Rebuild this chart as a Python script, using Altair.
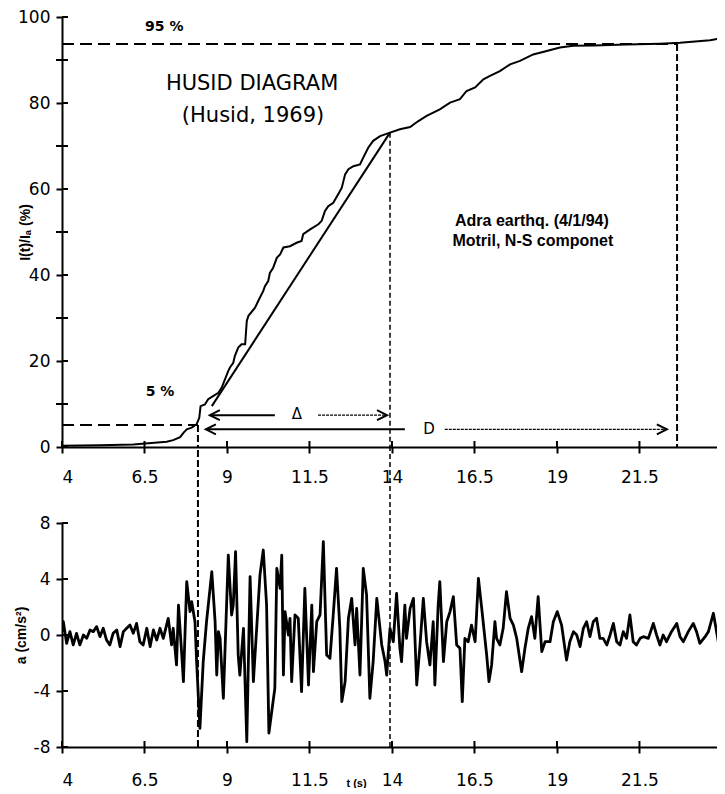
import altair as alt
import pandas as pd

# ---------------- data ----------------
# Husid diagram: cumulative Arias intensity (%) vs time (s)
husid_t = [4.0, 5.15, 6.16, 7.17, 7.37, 7.58, 7.68, 7.78, 7.93, 8.08,
           8.16, 8.20, 8.33, 8.43, 8.59, 8.74, 8.84, 9.04, 9.09, 9.19,
           9.24, 9.34, 9.44, 9.55, 9.60, 9.65, 9.85, 9.95, 10.10, 10.15,
           10.25, 10.30, 10.40, 10.51, 10.61, 10.71, 10.91, 11.11, 11.26, 11.31,
           11.52, 11.77, 11.87, 11.97, 12.07, 12.22, 12.37, 12.48, 12.58, 12.68,
           12.83, 13.03, 13.13, 13.28, 13.43, 13.64, 13.94, 14.24, 14.55, 14.80,
           15.05, 15.45, 15.76, 16.06, 16.26, 16.52, 16.77, 16.97, 17.27, 17.58,
           17.88, 18.28, 18.69, 19.09, 19.49, 20.10, 21.11, 22.12, 22.73, 23.64,
           24.09]
husid_i = [0.3, 0.4, 0.6, 1.2, 1.6, 2.3, 3.3, 4.1, 4.5, 5.3,
           6.8, 9.5, 9.9, 11.1, 11.9, 12.6, 13.8, 17.7, 18.5, 19.6,
           21.2, 23.1, 23.9, 23.9, 29.3, 30.5, 32.4, 34.0, 36.3, 37.4,
           38.6, 40.5, 41.7, 44.0, 44.8, 46.4, 46.7, 47.5, 47.9, 49.5,
           50.6, 51.8, 52.6, 54.9, 56.0, 56.8, 58.8, 60.3, 63.4, 64.6,
           65.3, 65.7, 67.3, 69.6, 71.2, 72.3, 73.1, 73.9, 74.4, 75.8,
           77.0, 78.5, 80.1, 80.9, 82.8, 83.6, 85.5, 86.3, 87.4, 89.0,
           89.8, 91.3, 92.1, 92.9, 93.3, 93.4, 93.6, 93.8, 94.0, 94.6,
           95.2]

# straight (linear) reference line
linear_t = [8.54, 13.94]
linear_i = [9.5, 73.1]

# accelerogram a(t) in cm/s^2
accel_t = [4.00, 4.04, 4.14, 4.24, 4.34, 4.44, 4.54, 4.65, 4.75, 4.85,
           4.95, 5.05, 5.15, 5.25, 5.35, 5.45, 5.55, 5.66, 5.76, 5.86,
           5.96, 6.06, 6.16, 6.26, 6.36, 6.46, 6.57, 6.67, 6.77, 6.87,
           6.97, 7.07,
           7.12, 7.22, 7.32, 7.37, 7.47, 7.53, 7.63, 7.68, 7.78, 7.88,
           7.93, 8.03, 8.08, 8.18, 8.28, 8.38, 8.54, 8.64, 8.69, 8.74,
           8.79, 8.89, 9.04, 9.14, 9.19, 9.26, 9.34, 9.39, 9.50, 9.60,
           9.70, 9.80, 9.90, 10.00, 10.10, 10.20, 10.27,
           10.45, 10.51, 10.61, 10.66, 10.71, 10.76, 10.86, 10.91, 10.96, 11.06,
           11.16, 11.26, 11.36, 11.47, 11.57, 11.62, 11.72, 11.82, 11.92, 12.02,
           12.12, 12.22, 12.32, 12.42, 12.48, 12.58, 12.68, 12.78, 12.88, 12.93,
           13.03, 13.13, 13.23, 13.33, 13.43, 13.54,
           13.69, 13.79, 13.84, 13.94, 14.04, 14.14, 14.24, 14.29, 14.39, 14.44,
           14.55, 14.65, 14.75, 14.85, 14.95, 15.05, 15.15, 15.25, 15.30, 15.40,
           15.45, 15.56, 15.66, 15.76, 15.86, 15.96, 16.06, 16.13, 16.21, 16.31,
           16.41, 16.52, 16.62, 16.72,
           16.87, 16.94, 17.02, 17.12, 17.17, 17.27, 17.37, 17.47, 17.58, 17.68,
           17.78, 17.93, 18.03, 18.13, 18.23, 18.33, 18.43, 18.54, 18.64, 18.79,
           18.89, 19.01, 19.14, 19.29, 19.39, 19.50, 19.60, 19.70, 19.80, 19.90,
           20.00, 20.10, 20.20, 20.30,
           20.40, 20.51, 20.61, 20.71, 20.81, 20.91, 21.01, 21.11, 21.21, 21.31,
           21.41, 21.52, 21.62, 21.77, 21.92, 22.02, 22.12, 22.22, 22.32, 22.47,
           22.63, 22.73, 22.83, 22.98, 23.13, 23.23, 23.33, 23.49, 23.59, 23.74,
           23.89, 23.99, 24.09]
accel_a = [0.24, 0.95, -0.6, 0.24, -0.71, 0.12, -0.71, 0.0, -0.24, 0.36,
           0.24, 0.6, -0.12, 0.48, -0.36, -0.71, 0.12, 0.36, -0.83, 0.24,
           0.48, 0.71, 0.12, 0.83, -0.48, -0.71, 0.48, -0.83, 0.36, -0.36,
           0.48, -0.24,
           0.24, 1.19, -0.71, 0.48, -2.14, 2.14, -1.43, -3.33, 3.81, 1.67,
           2.38, 0.95, -1.90, -6.67, -1.90, 0.95, 4.52, 0.95, -2.86, 0.24,
           -0.24, -4.52, 5.71, 1.43, 2.14, 5.95, -1.43, -2.86, 0.48, -7.62,
           4.17, -3.33, 0.48, 4.29, 6.07, 2.14, -7.0,
           -3.81, 4.76, 3.33, 5.71, -2.86, 1.67, 0.0, 1.19, -3.33, 1.43,
           1.19, -4.05, 3.33, -3.57, 2.14, -2.62, 0.95, 1.43, 6.67, -1.43,
           -1.67, 1.43, 4.76, 0.48, -4.76, -3.33, 1.19, 2.62, -0.71, 1.90,
           -2.86, 4.76, 2.86, -4.52, -1.90, 2.62,
           -0.71, -1.90, -2.86, 0.48, -0.48, 2.98, -0.95, -1.90, 2.14, -0.24,
           1.90, 2.62, -3.57, -0.71, 2.62, -0.48, -2.14, 0.95, -3.57, 2.14,
           3.81, -1.90, 0.95, 1.67, 2.74, -0.71, -0.95, -4.76, -0.24, -0.48,
           0.71, -0.48, 4.05, 1.90,
           -1.43, -3.33, -2.14, 0.95, -0.24, -0.71, 0.48, 3.10, 1.19, 0.71,
           -0.24, -2.62, -0.95, 0.48, 1.31, -0.24, 2.74, -1.19, -0.48, -0.48,
           0.95, 1.67, 0.71, -1.79, -0.48, 0.24, 0.0, -0.83, 0.48, 0.95,
           -0.12, 0.95, 1.19, -0.24,
           -0.24, -0.71, 0.0, 0.83, -0.48, -0.71, 0.24, -0.24, 1.43, -0.48,
           -0.71, -0.24, -0.12, -0.24, 0.83, 0.0, -0.71, 0.0, -0.48, 0.24,
           0.83, -0.12, -0.48, 0.24, 0.83, 0.24, -0.60, -0.12, 0.24, 1.55,
           -0.48, -0.60, -0.48]

# threshold lines (5 % and 95 %)
hline_t0 = [4.0, 4.0]
hline_t1 = [8.12, 22.64]
hline_i = [5.1, 93.7]

# vertical markers: t5, end of linear part, t95
vline_t = [8.12, 22.64]
vline_i = [5.1, 93.7]
vmid_t = [13.94]
vmid_i = [73.1]
cross_t = [8.12, 13.94]   # markers that continue into the accelerogram

# arrows Delta and D
arrow_solid_t0 = [8.48, 8.36]
arrow_solid_t1 = [10.45, 14.39]
arrow_thin_t0 = [11.76, 15.60]
arrow_thin_t1 = [13.85, 22.33]
arrow_i = [7.4, 4.1]
head_left_t = [8.48, 8.36]
head_right_t = [13.85, 22.33]

# annotation texts
title_txt = ["HUSID DIAGRAM", "(Husid, 1969)"]
title_t = [9.76, 9.79]
title_i = [84.4, 77.0]
pct_txt = ["95 %", "5 %"]
pct_t = [7.1, 6.97]
pct_i = [97.7, 12.8]
eq_txt = ["Adra earthq. (4/1/94)", "Motril, N-S componet"]
eq_t = [18.24, 18.27]
eq_i = [52.6, 47.9]
sym_txt = ["\u0394", "D"]
sym_t = [11.12, 15.12]
sym_i = [7.6, 4.1]

x_ticks = [4, 6.5, 9, 11.5, 14, 16.5, 19, 21.5]
top_yticks = [0, 20, 40, 60, 80, 100]
top_minor = [10, 30, 50, 70, 90]
bot_yticks = [-8, -4, 0, 4, 8]

# ---------------- chart ----------------
W = 655
H1 = 430
H2 = 224
XDOM = [4, 23.85]

xs = alt.Scale(domain=XDOM, nice=False, zero=False)
ys1 = alt.Scale(domain=[0, 100], nice=False)
ys2 = alt.Scale(domain=[-8, 8], nice=False)

LEFT_HEAD = "M2,-1L0,0L2,1"
RIGHT_HEAD = "M-2,-1L0,0L-2,1"
HYPHEN_LABEL = "datum.value < 0 ? '-' + toString(abs(datum.value)) : toString(datum.value)"

husid_df = pd.DataFrame({"t": husid_t, "I": husid_i})
lin_df = pd.DataFrame({"t": linear_t, "I": linear_i})
hl_df = pd.DataFrame({"t": hline_t0, "t2": hline_t1, "I": hline_i})
vl_df = pd.DataFrame({"t": vline_t, "I": vline_i, "I2": [0.0] * len(vline_t)})
vm_df = pd.DataFrame({"t": vmid_t, "I": vmid_i, "I2": [0.0] * len(vmid_t)})
as_df = pd.DataFrame({"t": arrow_solid_t0, "t2": arrow_solid_t1, "I": arrow_i})
at_df = pd.DataFrame({"t": arrow_thin_t0, "t2": arrow_thin_t1, "I": arrow_i})
hl_left = pd.DataFrame({"t": head_left_t, "I": arrow_i})
hl_right = pd.DataFrame({"t": head_right_t, "I": arrow_i})
title_df = pd.DataFrame({"t": title_t, "I": title_i, "s": title_txt})
pct_df = pd.DataFrame({"t": pct_t, "I": pct_i, "s": pct_txt})
eq_df = pd.DataFrame({"t": eq_t, "I": eq_i, "s": eq_txt})
sym_df = pd.DataFrame({"t": sym_t, "I": sym_i, "s": sym_txt})
minor_df = pd.DataFrame({"I": top_minor})
major_df = pd.DataFrame({"I": top_yticks})
xt_df = pd.DataFrame({"t": x_ticks})

X = lambda: alt.X("t:Q", scale=xs)
Y1 = lambda: alt.Y("I:Q", scale=ys1)
Y2 = lambda: alt.Y("a:Q", scale=ys2)

curve = alt.Chart(husid_df).mark_line(color="black", strokeWidth=2, clip=True).encode(
    x=alt.X("t:Q", scale=xs, axis=alt.Axis(values=x_ticks, format=".3~g", title=None,
                                           labelPadding=16)),
    y=alt.Y("I:Q", scale=ys1, axis=alt.Axis(values=top_yticks, format="d",
                                            title="I(t)/I\u2090 (%)",
                                            titleX=-37, titleBaseline="middle",
                                            titleFontSize=14, labelPadding=6)),
)
lin = alt.Chart(lin_df).mark_line(color="black", strokeWidth=2).encode(x=X(), y=Y1())
hl = alt.Chart(hl_df).mark_rule(color="black", strokeWidth=2, strokeDash=[12, 6]).encode(
    x=X(), x2="t2:Q", y=Y1())
vl = alt.Chart(vl_df).mark_rule(color="black", strokeWidth=2, strokeDash=[7, 3]).encode(
    x=X(), y=Y1(), y2="I2:Q")
vm = alt.Chart(vm_df).mark_rule(color="black", strokeWidth=1.5, strokeDash=[5, 3]).encode(
    x=X(), y=Y1(), y2="I2:Q")
asol = alt.Chart(as_df).mark_rule(color="black", strokeWidth=2).encode(x=X(), x2="t2:Q", y=Y1())
athin = alt.Chart(at_df).mark_rule(color="black", strokeWidth=1.3, strokeDash=[3, 1]).encode(
    x=X(), x2="t2:Q", y=Y1())
hleft = alt.Chart(hl_left).mark_point(shape=LEFT_HEAD, size=100, filled=False, color="black",
                                      strokeWidth=2, opacity=1).encode(x=X(), y=Y1())
hright = alt.Chart(hl_right).mark_point(shape=RIGHT_HEAD, size=100, filled=False, color="black",
                                        strokeWidth=2, opacity=1).encode(x=X(), y=Y1())
ttl = alt.Chart(title_df).mark_text(font="DejaVu Sans", fontSize=21, color="black").encode(
    x=X(), y=Y1(), text="s:N")
pct = alt.Chart(pct_df).mark_text(font="DejaVu Sans", fontSize=14, fontWeight="bold",
                                  color="black").encode(x=X(), y=Y1(), text="s:N")
eq = alt.Chart(eq_df).mark_text(font="Liberation Sans", fontSize=16, fontWeight="bold",
                                color="black").encode(x=X(), y=Y1(), text="s:N")
sym = alt.Chart(sym_df).mark_text(font="DejaVu Sans", fontSize=15, color="black").encode(
    x=X(), y=Y1(), text="s:N")
minor = alt.Chart(minor_df).mark_rule(color="black", strokeWidth=2).encode(
    y=Y1(), x=alt.value(-6), x2=alt.value(6))
major_in = alt.Chart(major_df).mark_rule(color="black", strokeWidth=2).encode(
    y=Y1(), x=alt.value(0), x2=alt.value(6))
xin_top = alt.Chart(xt_df).mark_rule(color="black", strokeWidth=2).encode(
    x=X(), y=alt.value(H1), y2=alt.value(H1 - 6))

top = alt.layer(curve, lin, hl, vl, vm, asol, athin, hleft, hright, ttl, pct, eq, sym,
                minor, major_in, xin_top).properties(width=W, height=H1)

accel_df = pd.DataFrame({"t": accel_t, "a": accel_a})
cross_df = pd.DataFrame({"t": cross_t, "a": [-8.0] * len(cross_t)})
byt_df = pd.DataFrame({"a": bot_yticks})

acc = alt.Chart(accel_df).mark_line(color="black", strokeWidth=2.8, clip=True,
                                    strokeJoin="round").encode(
    x=alt.X("t:Q", scale=xs, axis=alt.Axis(values=x_ticks, format=".3~g", title="t (s)",
                                           labelPadding=19, titleX=294, titleY=36,
                                           titleBaseline="middle", titleFontSize=11)),
    y=alt.Y("a:Q", scale=ys2, axis=alt.Axis(values=bot_yticks, labelExpr=HYPHEN_LABEL,
                                            title="a (cm/s\u00b2)",
                                            titleX=-41, titleBaseline="middle",
                                            titleFontSize=14, labelPadding=6)),
)
cross_solid = alt.Chart(cross_df.iloc[[0]]).mark_rule(color="black", strokeWidth=2,
                                                      strokeDash=[7, 3]).encode(
    x=X(), y=Y2(), y2=alt.value(-76))
cross_thin = alt.Chart(cross_df.iloc[[1]]).mark_rule(color="black", strokeWidth=1.5,
                                                     strokeDash=[5, 3]).encode(
    x=X(), y=Y2(), y2=alt.value(-76))
byin = alt.Chart(byt_df).mark_rule(color="black", strokeWidth=2).encode(
    y=Y2(), x=alt.value(0), x2=alt.value(6))
xin_bot = alt.Chart(xt_df).mark_rule(color="black", strokeWidth=2).encode(
    x=X(), y=alt.value(H2), y2=alt.value(H2 - 6))

bottom = alt.layer(acc, cross_solid, cross_thin, byin, xin_bot).properties(width=W, height=H2)

chart = alt.vconcat(top, bottom, spacing=76, bounds="flush").properties(
    padding={"left": 6, "top": 0, "right": 0, "bottom": 0}
).configure_view(strokeWidth=0).configure_axis(
    domainColor="black", domainWidth=2, tickColor="black", tickWidth=2, tickSize=6,
    labelColor="black", labelFont="DejaVu Sans", labelFontSize=17,
    titleColor="black", titleFont="Liberation Sans", titleFontWeight="bold", grid=False,
)

chart.save("out.html", embed_options={"renderer": "svg", "actions": False})
